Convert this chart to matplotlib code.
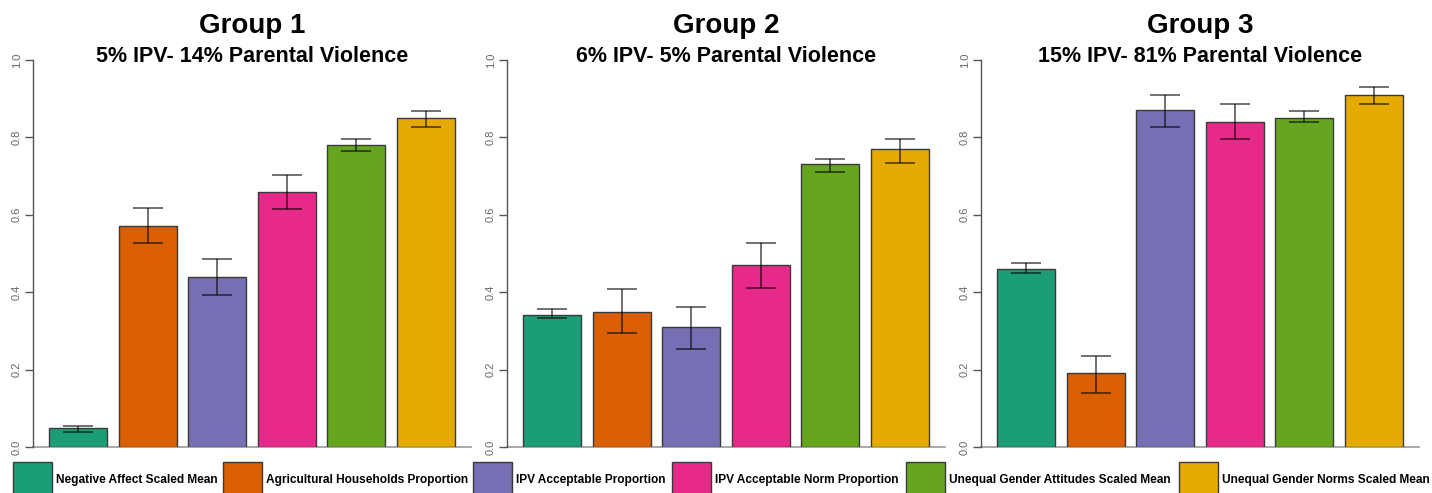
import matplotlib
matplotlib.use("Agg")
import matplotlib.pyplot as plt
from matplotlib import font_manager
from matplotlib.patches import Rectangle
import numpy as np

# measures shown in every panel
measures = [
    "Negative Affect Scaled Mean",
    "Agricultural Households Proportion",
    "IPV Acceptable Proportion",
    "IPV Acceptable Norm Proportion",
    "Unequal Gender Attitudes Scaled Mean",
    "Unequal Gender Norms Scaled Mean",
]
colors = ["#1B9E77", "#D95F02", "#7570B3", "#E7298A", "#66A61E", "#E6AB02"]

groups = ["Group 1", "Group 2", "Group 3"]
subtitles = [
    "5% IPV- 14% Parental Violence",
    "6% IPV- 5% Parental Violence",
    "15% IPV- 81% Parental Violence",
]

# bar heights per group
g1_mean = [0.05, 0.57, 0.44, 0.66, 0.78, 0.85]
g2_mean = [0.34, 0.35, 0.31, 0.47, 0.73, 0.77]
g3_mean = [0.46, 0.19, 0.87, 0.84, 0.85, 0.91]

# error bar ends
g1_low = [0.040, 0.526, 0.393, 0.614, 0.765, 0.828]
g1_high = [0.055, 0.617, 0.485, 0.702, 0.797, 0.867]
g2_low = [0.333, 0.294, 0.253, 0.410, 0.710, 0.735]
g2_high = [0.356, 0.407, 0.362, 0.528, 0.745, 0.797]
g3_low = [0.450, 0.140, 0.826, 0.795, 0.839, 0.887]
g3_high = [0.476, 0.236, 0.910, 0.887, 0.868, 0.931]

means = [g1_mean, g2_mean, g3_mean]
lows = [g1_low, g2_low, g3_low]
highs = [g1_high, g2_high, g3_high]

yticks = [0.0, 0.2, 0.4, 0.6, 0.8, 1.0]

installed = {f.name for f in font_manager.fontManager.ttflist}
main_font = "Liberation Sans" if "Liberation Sans" in installed else "DejaVu Sans"
plt.rcParams["font.family"] = [main_font, "DejaVu Sans"]

W, H = 1432, 493
fig = plt.figure(figsize=(W / 100, H / 100), dpi=100)

def fx(px):
    return px / W

def fy(py):
    return 1 - py / H

# R barplot geometry: width 1, space 0.2
x = 0.2 + np.arange(6) * 1.2 + 0.5
axis_left = [33, 507, 981]
panel_w = 438
top_px, base_px = 60, 447

for i in range(3):
    ax = fig.add_axes([fx(axis_left[i]), fy(base_px), fx(panel_w), (base_px - top_px) / H])
    ax.bar(x, means[i], width=1.0, color=colors, edgecolor="#3a3a3a", linewidth=1.0, zorder=2)
    m = np.array(means[i])
    yerr = [m - np.array(lows[i]), np.array(highs[i]) - m]
    ax.errorbar(x, m, yerr=yerr, fmt="none", ecolor="black", alpha=0.65,
                elinewidth=1.2, capsize=11, capthick=1.2, zorder=3)
    ax.set_xlim(-0.08, 7.48)
    ax.set_ylim(0, 1.0)
    ax.axhline(0, color="#9a9a9a", lw=1.2, zorder=1, clip_on=False)
    for s in ["top", "right", "bottom"]:
        ax.spines[s].set_visible(False)
    ax.spines["left"].set_color("#555555")
    ax.spines["left"].set_linewidth(1.0)
    ax.set_xticks([])
    ax.set_yticks(yticks)
    ax.set_yticklabels([f"{t:.1f}" for t in yticks], rotation=90, va="center",
                       fontsize=8, color="#666666")
    ax.tick_params(axis="y", length=6, width=1.0, color="#555555", pad=2)

    cx = axis_left[i] + panel_w / 2
    fig.text(fx(cx), fy(26), groups[i], ha="center", va="center",
             fontsize=20, fontweight="bold")
    fig.text(fx(cx), fy(57), subtitles[i], ha="center", va="center",
             fontsize=15.5, fontweight="bold")

# horizontal legend along the bottom edge
box_left = [13, 223, 473, 672, 906, 1179]
box_w = 39
for k in range(6):
    fig.patches.append(Rectangle((fx(box_left[k]), fy(500)), fx(box_w), (500 - 462) / H,
                                 transform=fig.transFigure, facecolor=colors[k],
                                 edgecolor="#3a3a3a", linewidth=1.0))
    fig.text(fx(box_left[k] + box_w + 4), fy(480), measures[k], ha="left", va="center",
             fontsize=8.6, fontweight="bold")

fig.savefig("out.png", dpi=100)
